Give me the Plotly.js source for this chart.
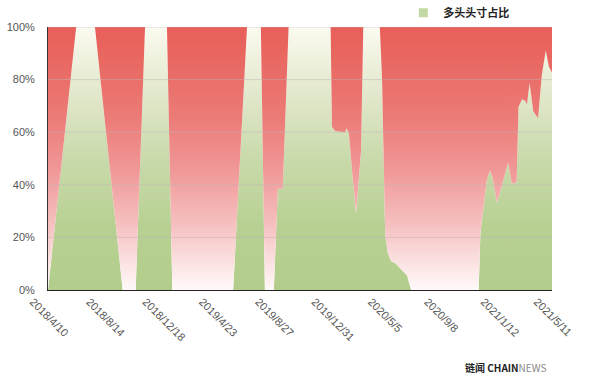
<!DOCTYPE html>
<html>
<head>
<meta charset="utf-8">
<script src="https://cdn.plot.ly/plotly-3.0.1.min.js"></script>
<style>
  html, body { margin: 0; padding: 0; background: #ffffff; }
  #chart { width: 600px; height: 377px; }
</style>
</head>
<body>
<div id="chart"></div>
<script>
// ---- data ----
const dates = [
  '2018-04-10','2018-06-12','2018-07-24','2018-09-24','2018-10-23','2018-11-13',
  '2019-01-01','2019-01-13','2019-05-29','2019-06-29','2019-07-30','2019-08-08',
  '2019-08-28','2019-09-06','2019-09-17','2019-09-30','2020-01-02','2020-01-05',
  '2020-01-12','2020-02-03','2020-02-07','2020-02-12','2020-02-19','2020-02-28',
  '2020-03-04','2020-03-10','2020-03-15','2020-04-21','2020-04-26','2020-04-29',
  '2020-05-03','2020-05-09','2020-05-16','2020-05-27','2020-06-05','2020-06-14',
  '2020-06-21','2020-06-25','2020-06-30','2020-11-28','2020-12-02','2020-12-09',
  '2020-12-16','2020-12-23','2020-12-29','2021-01-08','2021-02-02','2021-02-10',
  '2021-02-21','2021-02-25','2021-03-05','2021-03-12','2021-03-16','2021-03-22',
  '2021-03-30','2021-04-10','2021-04-18','2021-04-27','2021-05-04','2021-05-11'
];
const longPct = [
  0, 100, 100, 0, 0, 100,
  100, 0, 0, 100, 100, 0,
  0, 38.5, 38.5, 100, 100, 62,
  60.5, 60, 61.5, 59.5, 45, 29,
  40, 53, 100, 100, 80, 55,
  21, 14, 11, 10, 8.3, 6.4,
  5.5, 3, 0, 0, 22, 31.5,
  41.6, 45.4, 43, 33, 48.5, 40.4,
  41, 69.6, 72.5, 72, 70.5, 78.8,
  68, 65.3, 81.5, 91.1, 85, 82.6
];
const shortPct = longPct.map(v => 100 - v);

const tickDates = ['2018-04-10','2018-08-14','2018-12-18','2019-04-23','2019-08-27',
                   '2019-12-31','2020-05-05','2020-09-08','2021-01-12','2021-05-11'];
const tickLabels = ['2018/4/10','2018/8/14','2018/12/18','2019/4/23','2019/8/27',
                    '2019/12/31','2020/5/5','2020/9/8','2021/1/12','2021/5/11'];
const yTicks = [0, 20, 40, 60, 80, 100];
const yTickLabels = ['0%', '20%', '40%', '60%', '80%', '100%'];
const seriesName = '多头头寸占比';

// ---- styling ----
const greenScale = [[0,'#b2cd8b'],[0.25,'#b8d193'],[0.5,'#c9daab'],[0.75,'#e2e8cc'],[1,'#fbfaf0']];
const redScale = [[0,'#fff9f9'],[0.1,'#fbe3e3'],[0.25,'#f5c0bf'],[0.45,'#f09998'],
                  [0.65,'#ec7c78'],[0.85,'#e96a64'],[1,'#e85f58']];

const traces = [
  {
    type: 'scatter', x: dates, y: longPct, stackgroup: 'one', mode: 'lines',
    line: { width: 0 }, showlegend: false, hoverinfo: 'skip',
    fillgradient: { type: 'vertical', start: 0, stop: 100, colorscale: greenScale }
  },
  {
    type: 'scatter', x: dates, y: shortPct, stackgroup: 'one', mode: 'lines',
    line: { width: 0 }, showlegend: false, hoverinfo: 'skip',
    fillgradient: { type: 'vertical', start: 0, stop: 100, colorscale: redScale }
  },
  {
    // legend entry
    type: 'scatter', x: [null], y: [null], mode: 'markers', name: seriesName,
    marker: { symbol: 'square', size: 9, color: '#c3d8a3' }
  }
];

const gridShapes = yTicks.filter(v => v > 0).map(v => ({
  type: 'line', xref: 'paper', x0: 0, x1: 1, yref: 'y', y0: v, y1: v,
  layer: 'above', line: { color: 'rgba(195,180,180,0.5)', width: 1 }
}));

const layout = {
  width: 600, height: 377,
  margin: { l: 48, r: 48, t: 27, b: 87, autoexpand: false },
  paper_bgcolor: '#ffffff', plot_bgcolor: '#ffffff',
  font: { family: 'Arial, "Liberation Sans", sans-serif', size: 11, color: '#555' },
  showlegend: true,
  legend: {
    orientation: 'h', x: 0.705, xanchor: 'left', y: 1.054, yanchor: 'middle',
    font: { family: '"Noto Sans CJK SC", sans-serif', size: 11, color: '#222', weight: 'bold' },
    bgcolor: 'rgba(0,0,0,0)'
  },
  xaxis: {
    type: 'date', range: [dates[0], dates[dates.length - 1]],
    tickvals: tickDates, ticktext: tickLabels, tickangle: 45,
    showgrid: false, zeroline: false, ticks: '',
    showline: true, linecolor: '#222', linewidth: 1.2,
    ticklabelshift: -15, ticklabelstandoff: 0,
    tickfont: { family: 'Arial, "Liberation Sans", sans-serif', size: 11, color: '#555' }
  },
  yaxis: {
    range: [0, 100], tickvals: yTicks, ticktext: yTickLabels,
    showgrid: false, zeroline: false, ticks: '',
    showline: true, linecolor: '#333', linewidth: 1,
    ticklabelstandoff: 10,
    tickfont: { family: 'Arial, "Liberation Sans", sans-serif', size: 11, color: '#555' }
  },
  shapes: gridShapes,
  annotations: [{
    xref: 'paper', yref: 'paper', x: 0.992, y: -0.293, xanchor: 'right', yanchor: 'middle',
    align: 'right', showarrow: false,
    text: '<b>链闻 CHAIN</b><span style="color:#8a8a8a">NEWS</span>',
    font: { family: '"Noto Sans CJK SC", Arial, sans-serif', size: 10, color: '#222' }
  }]
};

Plotly.newPlot('chart', traces, layout, { displayModeBar: false, staticPlot: true });
</script>
</body>
</html>
